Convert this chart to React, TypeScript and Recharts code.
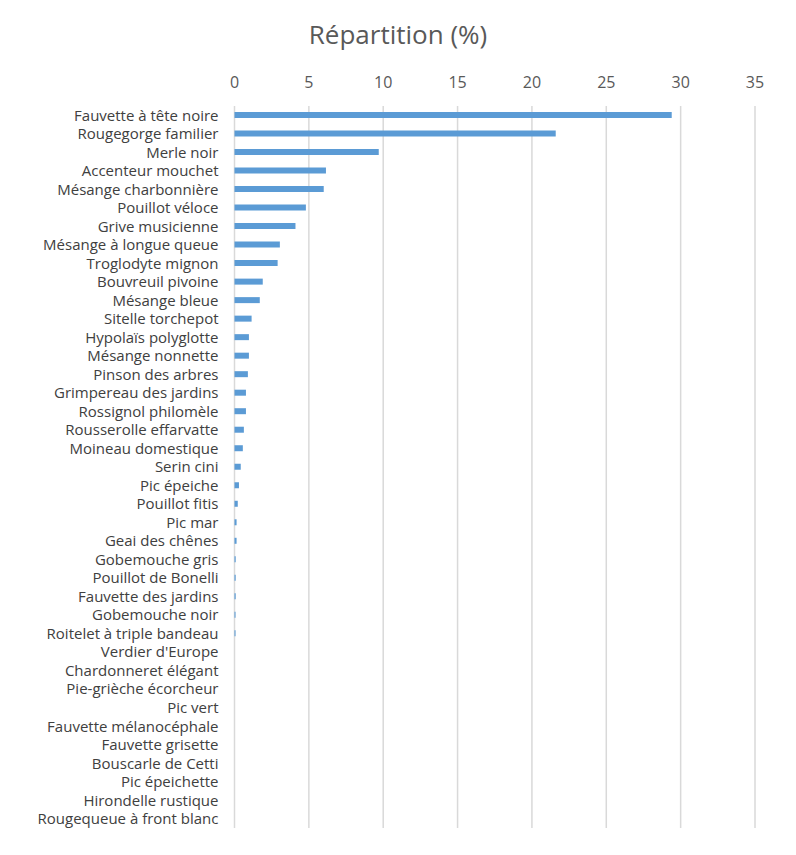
import React from 'react'
import { BarChart, Bar, XAxis, YAxis, CartesianGrid } from 'recharts'

const species = [
  'Fauvette à tête noire',
  'Rougegorge familier',
  'Merle noir',
  'Accenteur mouchet',
  'Mésange charbonnière',
  'Pouillot véloce',
  'Grive musicienne',
  'Mésange à longue queue',
  'Troglodyte mignon',
  'Bouvreuil pivoine',
  'Mésange bleue',
  'Sitelle torchepot',
  'Hypolaïs polyglotte',
  'Mésange nonnette',
  'Pinson des arbres',
  'Grimpereau des jardins',
  'Rossignol philomèle',
  'Rousserolle effarvatte',
  'Moineau domestique',
  'Serin cini',
  'Pic épeiche',
  'Pouillot fitis',
  'Pic mar',
  'Geai des chênes',
  'Gobemouche gris',
  'Pouillot de Bonelli',
  'Fauvette des jardins',
  'Gobemouche noir',
  'Roitelet à triple bandeau',
  "Verdier d'Europe",
  'Chardonneret élégant',
  'Pie-grièche écorcheur',
  'Pic vert',
  'Fauvette mélanocéphale',
  'Fauvette grisette',
  'Bouscarle de Cetti',
  'Pic épeichette',
  'Hirondelle rustique',
  'Rougequeue à front blanc'
]

const share = [
  29.4, 21.6, 9.7, 6.15, 6.0, 4.8, 4.1, 3.05, 2.9, 1.9, 1.7, 1.15, 0.97, 0.97, 0.9,
  0.77, 0.77, 0.63, 0.56, 0.42, 0.3, 0.22, 0.14, 0.14, 0.08, 0.08, 0.08, 0.07, 0.07,
  0, 0, 0, 0, 0, 0, 0, 0, 0, 0
]

const xTicks = [0, 5, 10, 15, 20, 25, 30, 35]

const data = species.map((name, i) => ({ name, value: share[i] }))

const font = '"Open Sans", "Noto Sans", sans-serif'

export default function App() {
  return (
    <div style={{ position: 'relative', width: 780, height: 840, fontFamily: font }}>
      <div
        style={{
          position: 'absolute',
          top: 8,
          left: 0,
          width: 780,
          textAlign: 'center',
          fontSize: 26,
          color: '#595959'
        }}
      >
        Répartition (%)
      </div>
      <BarChart
        width={780}
        height={840}
        data={data}
        layout="vertical"
        margin={{ top: 68, right: 33, bottom: 20, left: 0 }}
        barCategoryGap={0}
      >
        <CartesianGrid horizontal={false} stroke="#d9d9d9" strokeWidth={1.5} />
        <XAxis
          type="number"
          orientation="top"
          domain={[0, 35]}
          ticks={xTicks}
          axisLine={false}
          tickLine={false}
          tickMargin={12}
          tick={{ fill: '#595959', fontSize: 16, fontFamily: font }}
        />
        <YAxis
          type="category"
          dataKey="name"
          width={226.5}
          interval={0}
          axisLine={false}
          tickLine={false}
          tickMargin={10}
          tick={{ fill: '#404040', fontSize: 15, fontFamily: font }}
        />
        <Bar dataKey="value" fill="#5b9bd5" barSize={6} isAnimationActive={false} />
      </BarChart>
    </div>
  )
}
